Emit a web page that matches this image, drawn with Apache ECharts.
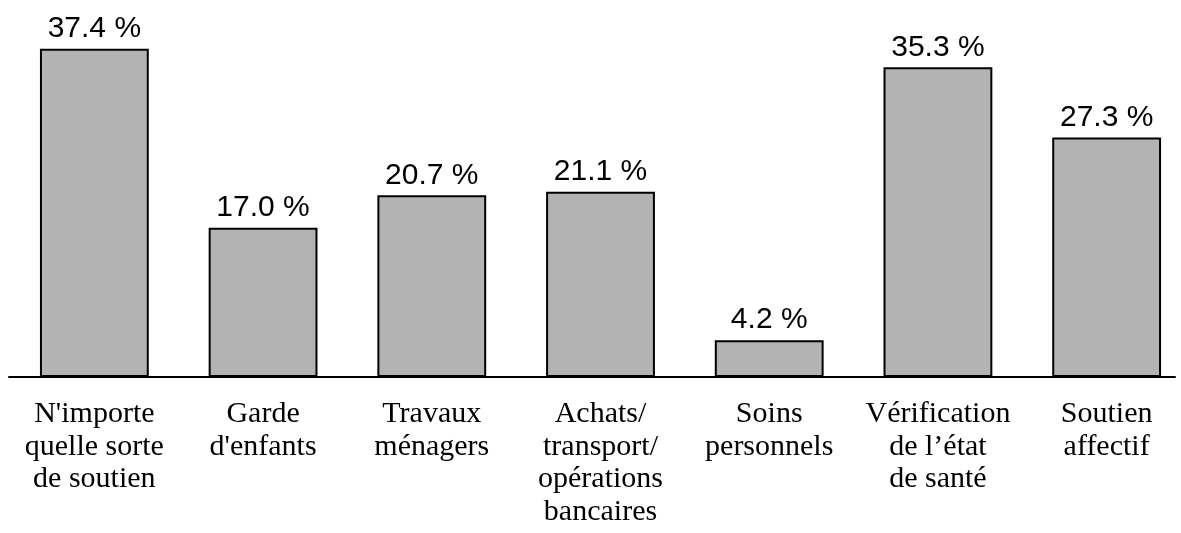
<!DOCTYPE html>
<html>
<head>
<meta charset="utf-8">
<script src="https://cdn.jsdelivr.net/npm/echarts@6/dist/echarts.min.js"></script>
<style>
  html, body { margin: 0; padding: 0; background: #fff; overflow: hidden; }
  /* the last category band runs slightly past the right edge of the page */
  #chart { width: 1191px; height: 533px; }
</style>
</head>
<body>
<div id="chart"></div>
<script>
// Types of support received (share, %)
const categories = [
  "N'importe\nquelle sorte\nde soutien",
  "Garde\nd'enfants",
  "Travaux\nménagers",
  "Achats/\ntransport/\nopérations\nbancaires",
  "Soins\npersonnels",
  "Vérification\nde l’état\nde santé",
  "Soutien\naffectif"
];
const values = [37.4, 17.0, 20.7, 21.1, 4.2, 35.3, 27.3];

const chart = echarts.init(document.getElementById('chart'), null, { renderer: 'canvas' });

chart.setOption({
  animation: false,
  backgroundColor: '#ffffff',
  grid: [
    // bars and category labels
    { left: 10, right: 0, top: 26, height: 351 },
    // baseline rule, a little shorter than the category band
    { left: 9, right: 16, top: 26, height: 351 }
  ],
  xAxis: [{
    type: 'category',
    gridIndex: 0,
    data: categories,
    axisLine: { show: false },
    axisTick: { show: false },
    axisLabel: {
      interval: 0,
      margin: 21,
      color: '#000',
      fontFamily: '"Liberation Serif", "Times New Roman", serif',
      fontSize: 30,
      lineHeight: 32.5
    }
  }, {
    type: 'value',
    gridIndex: 1,
    min: 0,
    max: 1,
    axisLine: { show: true, onZero: false, lineStyle: { color: '#000', width: 2 } },
    axisTick: { show: false },
    axisLabel: { show: false },
    splitLine: { show: false }
  }],
  yAxis: [{
    type: 'value',
    gridIndex: 0,
    min: 0,
    max: 40,
    show: false,
    splitLine: { show: false }
  }, {
    type: 'value',
    gridIndex: 1,
    min: 0,
    max: 1,
    show: false,
    splitLine: { show: false }
  }],
  series: [{
    type: 'bar',
    xAxisIndex: 0,
    yAxisIndex: 0,
    data: values,
    barWidth: '64.5%',
    z: 3,
    itemStyle: { color: '#b3b3b3', borderColor: '#000', borderWidth: 2 },
    label: {
      show: true,
      position: 'top',
      distance: 5,
      color: '#000',
      fontFamily: '"Liberation Sans", Arial, sans-serif',
      fontSize: 30,
      formatter: p => p.value.toFixed(1) + ' %'
    }
  }]
});
</script>
</body>
</html>
